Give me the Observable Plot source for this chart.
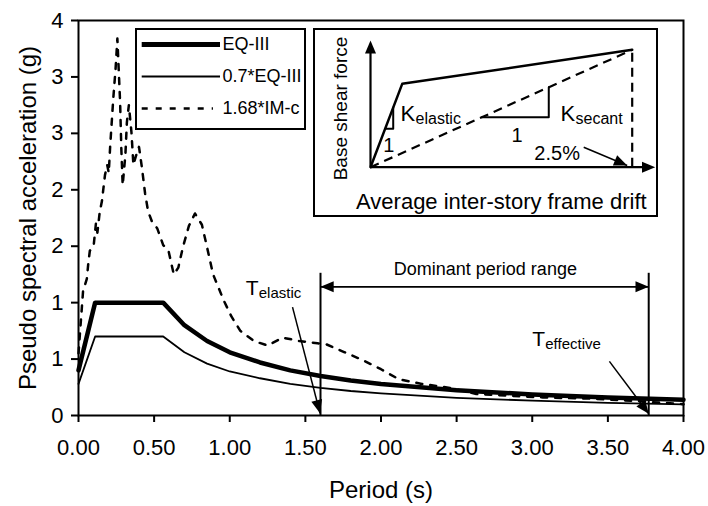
<!DOCTYPE html>
<html>
<head>
<meta charset="utf-8">
<script src="https://cdn.jsdelivr.net/npm/d3@7"></script>
<script src="https://cdn.jsdelivr.net/npm/@observablehq/plot@0.6"></script>
<style>
  html, body { margin: 0; padding: 0; background: #fff; }
  #chart { position: relative; width: 708px; height: 506px; overflow: hidden; }
  #chart > svg, #chart > div { position: absolute; }
  .box { background: #fff; border: 2px solid #000; box-sizing: border-box; }
  .box svg { display: block; }
</style>
</head>
<body>
<div id="chart"></div>
<script>
const FONT = "Arial, 'Liberation Sans', Helvetica, sans-serif";

// ---------------- Response spectra ----------------
const periodEQ   = [0, 0.11, 0.56, 0.70, 0.85, 1.00, 1.20, 1.40, 1.60, 1.80, 2.00, 2.50, 3.00, 3.50, 4.00];
const saEQIII    = [0.40, 1.00, 1.00, 0.80, 0.66, 0.56, 0.47, 0.40, 0.35, 0.31, 0.28, 0.224, 0.187, 0.160, 0.140];
const sa07EQIII  = [0.28, 0.70, 0.70, 0.56, 0.46, 0.39, 0.33, 0.28, 0.245, 0.217, 0.196, 0.157, 0.131, 0.112, 0.098];

const periodIMc = [0, 0.03, 0.055, 0.065, 0.075, 0.10, 0.115, 0.125, 0.14, 0.155, 0.175, 0.19, 0.20, 0.21, 0.23,
  0.245, 0.257, 0.275, 0.283, 0.292, 0.31, 0.32, 0.333, 0.35, 0.363, 0.38, 0.40, 0.42, 0.44, 0.46, 0.485,
  0.52, 0.56, 0.595, 0.63, 0.66, 0.69, 0.73, 0.77, 0.816, 0.85, 0.89, 0.96, 1.01, 1.07, 1.16, 1.25, 1.35,
  1.46, 1.58, 1.64, 1.76, 1.88, 2.00, 2.12, 2.27, 2.48, 2.63, 2.78, 3.07, 3.37, 3.67, 4.00];
const sa168IMc = [0.55, 1.10, 1.21, 1.35, 1.46, 1.50, 1.70, 1.62, 1.80, 1.90, 2.13, 2.22, 2.15, 2.40, 2.81,
  3.07, 3.34, 2.78, 2.37, 2.04, 2.31, 2.60, 2.75, 2.51, 2.22, 2.30, 2.38, 2.19, 1.97, 1.81, 1.72,
  1.66, 1.51, 1.46, 1.25, 1.31, 1.49, 1.68, 1.79, 1.69, 1.49, 1.25, 1.02, 0.88, 0.75, 0.66, 0.62, 0.69,
  0.66, 0.64, 0.63, 0.56, 0.49, 0.41, 0.32, 0.28, 0.24, 0.19, 0.18, 0.16, 0.15, 0.13, 0.10];

const seriesNames = ["EQ-III", "0.7*EQ-III", "1.68*IM-c"];

const xTicks = [0, 0.5, 1, 1.5, 2, 2.5, 3, 3.5, 4];
const xTickLabels = ["0.00", "0.50", "1.00", "1.50", "2.00", "2.50", "3.00", "3.50", "4.00"];
const yTicks = [0, 0.5, 1, 1.5, 2, 2.5, 3, 3.5];
const yTickLabels = ["0", "1", "1", "2", "2", "3", "3", "4"];
const xTitle = "Period (s)";
const yTitle = "Pseudo spectral acceleration (g)";

// ---------------- Annotations (data units) ----------------
const dominantRange = [1.6, 3.77];          // T_elastic, T_effective
const dominantRuleTop = 1.26;
const dominantArrowLevel = 1.14;
const dominantLabel = [{t: 2.69, v: 1.30, text: "Dominant period range"}];
const periodLabels = [
  {t: 1.106, v: 1.196, base: "T", sub: "elastic"},
  {t: 3.00,  v: 0.75,  base: "T", sub: "effective"}
];
const periodArrows = [
  {t1: 1.415, v1: 0.96, t2: 1.597, v2: 0.02},
  {t1: 3.51,  v1: 0.48, t2: 3.77,  v2: 0.015}
];

// ---------------- Inset: pushover sketch (drift %, normalised force) ----------------
const pushoverDrift = [0, 0.303, 2.5];
const pushoverForce = [0, 0.71, 1.0];
const insetAxisTop = 1.08;
const insetAxisRight = 2.72;
const kElasticTri = {d1: 0.14, d2: 0.217, f1: 0.327, f2: 0.508};
const kSecantTri  = {d1: 1.065, d2: 1.703, f1: 0.426, f2: 0.681};
const insetOnes = [{d: 0.175, f: 0.185}, {d: 1.40, f: 0.27}];
const insetK = [{d: 0.287, f: 0.526, sub: "elastic"}, {d: 1.815, f: 0.526, sub: "secant"}];
const driftLabel = [{d: 1.783, f: 0.114, text: "2.5%"}];
const driftArrow = [{d1: 2.037, f1: 0.170, d2: 2.452, f2: 0.014}];
const insetXTitle = "Average inter-story frame drift";
const insetYTitle = "Base shear force";

// filled arrow-head symbol with its tip at the origin, pointing up
const headSymbol = {
  draw(context, size) {
    const r = Math.sqrt(size / Math.PI);
    context.moveTo(0, 0);
    context.lineTo(-r * 0.5, r * 1.2);
    context.lineTo(r * 0.5, r * 1.2);
    context.closePath();
  }
};
function headAngle(sx, sy, x1, y1, x2, y2) {
  const dx = sx(x2) - sx(x1), dy = sy(y2) - sy(y1);
  return Math.atan2(dx, -dy) * 180 / Math.PI;
}

const root = document.getElementById("chart");

// ---------------- Main chart ----------------
const W = 708, H = 506, ML = 78, MR = 25, MT = 20, MB = 91;
const xDom = [0, 4], yDom = [0, 3.5];
const sx = d3.scaleLinear(xDom, [ML, W - MR]);
const sy = d3.scaleLinear(yDom, [H - MB, MT]);

const eqRows   = periodEQ.map((t, i) => ({t, v: saEQIII[i]}));
const eq07Rows = periodEQ.map((t, i) => ({t, v: sa07EQIII[i]}));
const imRows   = periodIMc.map((t, i) => ({t, v: sa168IMc[i]}));

const mainHeads = [
  {t: dominantRange[0], v: dominantArrowLevel, rot: -90},
  {t: dominantRange[1], v: dominantArrowLevel, rot: 90},
  ...periodArrows.map(a => ({t: a.t2, v: a.v2, rot: headAngle(sx, sy, a.t1, a.v1, a.t2, a.v2)}))
];

const main = Plot.plot({
  width: W, height: H,
  marginLeft: ML, marginRight: MR, marginTop: MT, marginBottom: MB,
  style: {fontFamily: FONT, color: "#000", background: "transparent", overflow: "visible"},
  x: {domain: xDom},
  y: {domain: yDom},
  marks: [
    Plot.line(eq07Rows, {x: "t", y: "v", stroke: "#000", strokeWidth: 1.8}),
    Plot.line(imRows, {x: "t", y: "v", stroke: "#000", strokeWidth: 2.5, strokeDasharray: "6,8"}),
    Plot.line(eqRows, {x: "t", y: "v", stroke: "#000", strokeWidth: 4.5}),
    Plot.ruleX(dominantRange, {y1: 0, y2: dominantRuleTop, stroke: "#000", strokeWidth: 2}),
    Plot.ruleY([dominantArrowLevel], {x1: dominantRange[0], x2: dominantRange[1], stroke: "#000", strokeWidth: 1.8}),
    Plot.link(periodArrows, {x1: "t1", y1: "v1", x2: "t2", y2: "v2", stroke: "#000", strokeWidth: 1.5}),
    Plot.dot(mainHeads, {x: "t", y: "v", rotate: "rot", symbol: headSymbol, r: 11, fill: "#000", stroke: "none"}),
    Plot.text(dominantLabel, {x: "t", y: "v", text: "text", fontSize: 18, lineAnchor: "middle"}),
    Plot.text(periodLabels, {x: "t", y: "v", text: "base", fontSize: 21, textAnchor: "start", lineAnchor: "top"}),
    Plot.text(periodLabels, {x: "t", y: "v", text: "sub", fontSize: 15, textAnchor: "start", lineAnchor: "top", dx: 13, dy: 7}),
    Plot.frame({stroke: "#000", strokeWidth: 2}),
    Plot.axisX({ticks: xTicks, tickFormat: d => xTickLabels[xTicks.indexOf(d)], tickSize: 7, tickPadding: 17,
      fontSize: 22, label: null, strokeWidth: 2}),
    Plot.axisY({ticks: yTicks, tickFormat: d => yTickLabels[yTicks.indexOf(d)], tickSize: 7, tickPadding: 8,
      fontSize: 22, label: null, strokeWidth: 2}),
    Plot.text([xTitle], {frameAnchor: "bottom", dy: 75, fontSize: 24, textAnchor: "middle", lineAnchor: "middle"}),
    Plot.text([yTitle], {frameAnchor: "left", dx: -50, rotate: -90, fontSize: 24, textAnchor: "middle", lineAnchor: "middle"})
  ]
});
main.style.left = "0px"; main.style.top = "0px";
root.appendChild(main);

// ---------------- Legend (boxed) ----------------
const legendBox = document.createElement("div");
legendBox.className = "box";
Object.assign(legendBox.style, {left: "135px", top: "28px", width: "171px", height: "102px"});
const legend = Plot.plot({
  width: 167, height: 98,
  marginLeft: 4.7, marginRight: 84, marginTop: 13.3, marginBottom: 19,
  style: {fontFamily: FONT, color: "#000", background: "transparent", overflow: "visible"},
  x: {domain: [0, 1], axis: null},
  y: {type: "point", domain: seriesNames, padding: 0, axis: null},
  marks: [
    Plot.ruleY([seriesNames[0]], {x1: 0, x2: 1, stroke: "#000", strokeWidth: 5}),
    Plot.ruleY([seriesNames[1]], {x1: 0, x2: 1, stroke: "#000", strokeWidth: 1.8}),
    Plot.ruleY([seriesNames[2]], {x1: 0, x2: 0.91, stroke: "#000", strokeWidth: 2.5, strokeDasharray: "6,8"}),
    Plot.text(seriesNames, {x: 1, y: d => d, dx: 2, textAnchor: "start", fontSize: 18})
  ]
});
legendBox.appendChild(legend);
root.appendChild(legendBox);

// ---------------- Inset (boxed) ----------------
const insetBox = document.createElement("div");
insetBox.className = "box";
Object.assign(insetBox.style, {left: "313px", top: "28px", width: "345px", height: "189px"});
const IW = 341, IH = 185, IL = 55, IR = 24.3, IT = 19.3, IB = 48.3;
const ix = d3.scaleLinear([0, 2.5], [IL, IW - IR]);
const iy = d3.scaleLinear([0, 1], [IH - IB, IT]);
const pushRows = pushoverDrift.map((d, i) => ({d, f: pushoverForce[i]}));
const last = pushRows[pushRows.length - 1];
const insetHeads = [
  {d: 0, f: insetAxisTop, rot: 0},
  {d: insetAxisRight, f: 0, rot: 90},
  ...driftArrow.map(a => ({d: a.d2, f: a.f2, rot: headAngle(ix, iy, a.d1, a.f1, a.d2, a.f2)}))
];
const inset = Plot.plot({
  width: IW, height: IH,
  marginLeft: IL, marginRight: IR, marginTop: IT, marginBottom: IB,
  style: {fontFamily: FONT, color: "#000", background: "transparent", overflow: "visible"},
  x: {domain: [0, 2.5], axis: null},
  y: {domain: [0, 1], axis: null},
  marks: [
    Plot.ruleX([0], {y1: 0, y2: insetAxisTop - 0.05, stroke: "#000", strokeWidth: 2.2}),
    Plot.ruleY([0], {x1: 0, x2: insetAxisRight - 0.05, stroke: "#000", strokeWidth: 2.2}),
    Plot.line(pushRows, {x: "d", y: "f", stroke: "#000", strokeWidth: 2.5}),
    Plot.link([{d1: 0, f1: 0, d2: last.d, f2: last.f}], {x1: "d1", y1: "f1", x2: "d2", y2: "f2",
      stroke: "#000", strokeWidth: 2.2, strokeDasharray: "9,6"}),
    Plot.ruleX([last.d], {y1: 0, y2: last.f, stroke: "#000", strokeWidth: 2.2, strokeDasharray: "9,6"}),
    Plot.line([{d: kElasticTri.d1, f: kElasticTri.f1}, {d: kElasticTri.d2, f: kElasticTri.f1}, {d: kElasticTri.d2, f: kElasticTri.f2}],
      {x: "d", y: "f", stroke: "#000", strokeWidth: 2}),
    Plot.line([{d: kSecantTri.d1, f: kSecantTri.f1}, {d: kSecantTri.d2, f: kSecantTri.f1}, {d: kSecantTri.d2, f: kSecantTri.f2}],
      {x: "d", y: "f", stroke: "#000", strokeWidth: 2}),
    Plot.link(driftArrow, {x1: "d1", y1: "f1", x2: "d2", y2: "f2", stroke: "#000", strokeWidth: 1.5}),
    Plot.dot(insetHeads, {x: "d", y: "f", rotate: "rot", symbol: headSymbol, r: 11, fill: "#000", stroke: "none"}),
    Plot.text(insetOnes, {x: "d", y: "f", text: () => "1", fontSize: 20, lineAnchor: "middle"}),
    Plot.text(insetK, {x: "d", y: "f", text: () => "K", fontSize: 22, textAnchor: "start", lineAnchor: "top"}),
    Plot.text(insetK, {x: "d", y: "f", text: "sub", fontSize: 16, textAnchor: "start", lineAnchor: "top", dx: 15, dy: 7}),
    Plot.text(driftLabel, {x: "d", y: "f", text: "text", fontSize: 20, lineAnchor: "middle"}),
    Plot.text([insetXTitle], {frameAnchor: "bottom", dy: 35, fontSize: 22, textAnchor: "middle", lineAnchor: "middle"}),
    Plot.text([insetYTitle], {frameAnchor: "left", dx: -30, rotate: -90, fontSize: 19, textAnchor: "middle", lineAnchor: "middle"})
  ]
});
insetBox.appendChild(inset);
root.appendChild(insetBox);
</script>
</body>
</html>
